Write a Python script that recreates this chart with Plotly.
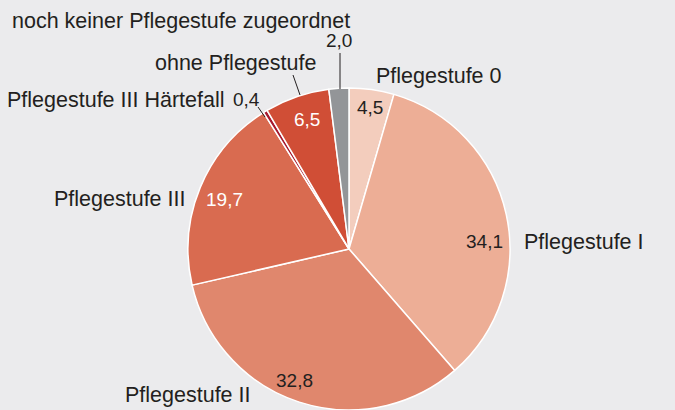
import plotly.graph_objects as go

# Anteile in Prozent, im Uhrzeigersinn ab 12 Uhr
labels = [
    "Pflegestufe 0",
    "Pflegestufe I",
    "Pflegestufe II",
    "Pflegestufe III",
    "Pflegestufe III Härtefall",
    "ohne Pflegestufe",
    "noch keiner Pflegestufe zugeordnet",
]
values = [4.5, 34.1, 32.8, 19.7, 0.4, 6.5, 2.0]
colors = ["#f3cdbd", "#edae96", "#e0876d", "#d96b50", "#a6192e", "#d04e36", "#939598"]
value_font_colors = ["#231f20", "#231f20", "#231f20", "white", "#231f20", "white", "#231f20"]

W, H = 675, 410
BG = "#ebebed"
TXT = "#231f20"


def px(x, y):
    # Pixel -> Papierkoordinaten
    return x / W, 1 - y / H


# Pie-Kreis: Mitte (349, 249), Radius 161
cx, cy, r = 349, 249, 161
x0, y_top = px(cx - r, cy - r)
x1, y_bot = px(cx + r, cy + r)

fig = go.Figure(go.Pie(
    labels=labels,
    values=values,
    sort=False,
    direction="clockwise",
    rotation=0,
    textinfo="none",
    hoverinfo="label+value",
    marker=dict(colors=colors, line=dict(color="white", width=1.5)),
    domain=dict(x=[x0, x1], y=[max(y_bot, 0), y_top]),
    showlegend=False,
))

# Beschriftungen der Kategorien (Pixelposition, Ausrichtung)
label_pos = [
    (374, 76, "left"),
    (522, 242, "left"),
    (253, 395, "right"),
    (187, 199, "right"),
    (227, 100, "right"),
    (318, 63, "right"),
    (352, 21, "right"),
]
# Wertebeschriftungen
value_pos = [
    (370, 107),
    (484, 241),
    (294, 380),
    (224, 199),
    (246, 99),
    (307, 119),
    (339, 41),
]

annotations = []
for lab, (lx, ly, anc) in zip(labels, label_pos):
    ax, ay = px(lx, ly)
    annotations.append(dict(x=ax, y=ay, xref="paper", yref="paper", text=lab,
                            xanchor=anc, yanchor="middle", showarrow=False,
                            font=dict(size=21.5, color=TXT)))
for v, (vx, vy), fc in zip(values, value_pos, value_font_colors):
    ax, ay = px(vx, vy)
    annotations.append(dict(x=ax, y=ay, xref="paper", yref="paper",
                            text=f"{v:.1f}".replace(".", ","),
                            xanchor="center", yanchor="middle", showarrow=False,
                            font=dict(size=19, color=fc)))

# Hinweislinien
leaders = [
    ((258, 107), (265, 117)),
    ((293, 75), (300, 95)),
    ((340, 53), (340, 89)),
]
shapes = []
for (a, b) in leaders:
    ax, ay = px(*a)
    bx, by = px(*b)
    shapes.append(dict(type="line", xref="paper", yref="paper", x0=ax, y0=ay, x1=bx, y1=by,
                       line=dict(color=TXT, width=1)))

fig.update_layout(
    width=W, height=H,
    margin=dict(l=0, r=0, t=0, b=0),
    paper_bgcolor=BG,
    plot_bgcolor=BG,
    font=dict(family="Liberation Sans, Arial, sans-serif", color=TXT),
    annotations=annotations,
    shapes=shapes,
)

fig.write_html("out.html",
               config={"displayModeBar": False},
               post_script="document.body.style.margin='0';document.body.style.background='%s';" % BG)
